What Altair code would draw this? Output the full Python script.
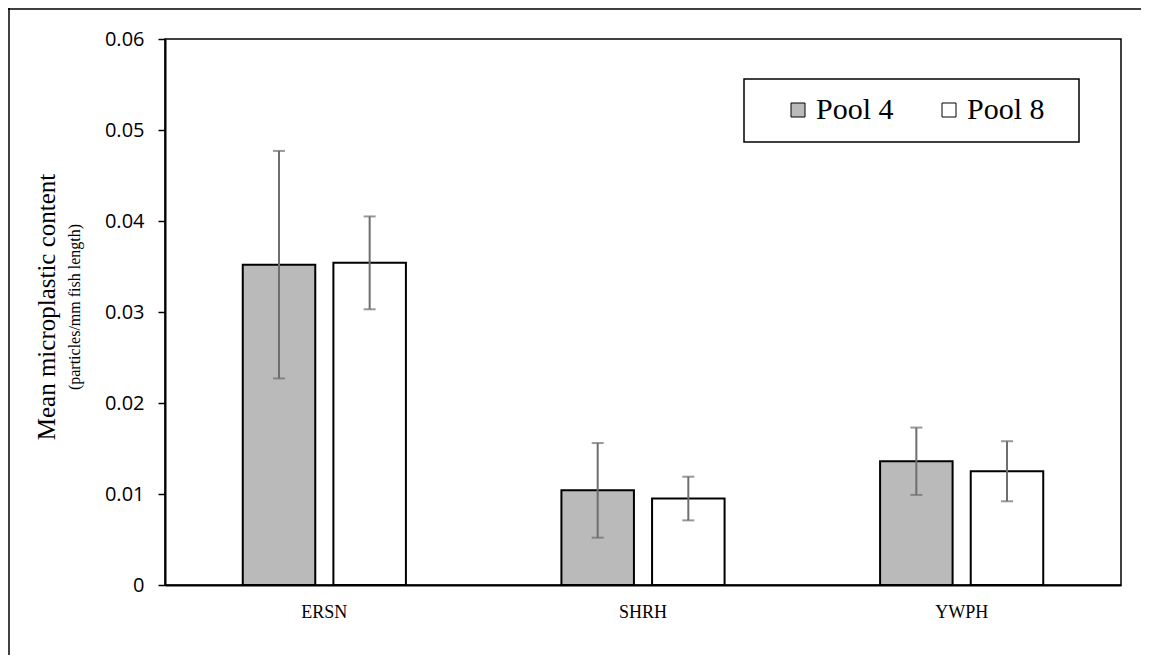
import altair as alt
import pandas as pd

categories = ["ERSN", "SHRH", "YWPH"]
series = ["Pool 4", "Pool 8"]
pool4_mean = [0.0352, 0.0104, 0.0136]
pool8_mean = [0.0354, 0.0095, 0.0125]
pool4_err = [0.0125, 0.0052, 0.0037]
pool8_err = [0.0051, 0.0024, 0.0033]
y_ticks = [0, 0.01, 0.02, 0.03, 0.04, 0.05, 0.06]
colors = ["#bababa", "#ffffff"]

rows = []
for i, c in enumerate(categories):
    for s, m, e in ((series[0], pool4_mean, pool4_err), (series[1], pool8_mean, pool8_err)):
        rows.append({"site": c, "pool": s, "mean": m[i], "low": m[i] - e[i], "high": m[i] + e[i]})
df = pd.DataFrame(rows)

W, H = 956, 546
ERR = "#6e6e6e"

x = alt.X("site:N", sort=categories,
          scale=alt.Scale(paddingInner=0.488, paddingOuter=0.244),
          axis=alt.Axis(title=None, labelAngle=0, ticks=False, labelFont="Liberation Serif",
                        labelFontSize=18, labelColor="black", labelPadding=18,
                        domainColor="black", domainWidth=2))
xo = alt.XOffset("pool:N", sort=series, scale=alt.Scale(paddingInner=0.2, paddingOuter=0))
yscale = alt.Scale(domain=[0, 0.06], nice=False, zero=True)
y = alt.Y("mean:Q", scale=yscale,
          axis=alt.Axis(values=y_ticks, title=None, grid=False,
                        labelExpr="datum.value == 0 ? '0' : format(datum.value, '.2f')",
                        labelFont="Open Sans", labelFontSize=20, labelColor="black",
                        tickSize=7, tickColor="black", tickWidth=1.5,
                        domainColor="black", domainWidth=2, labelPadding=14))

one = pd.DataFrame({"k": [0]})

border_top = alt.Chart(one).mark_rule(color="black", strokeWidth=1.5).encode(
    x=alt.value(-157), x2=alt.value(990), y=alt.value(-30))
border_left = alt.Chart(one).mark_rule(color="black", strokeWidth=1.5).encode(
    x=alt.value(-156), y=alt.value(-31), y2=alt.value(700))

legend_box = alt.Chart(one).mark_rect(fill="transparent", stroke="black", strokeWidth=1.5).encode(
    x=alt.value(579), x2=alt.value(914), y=alt.value(40), y2=alt.value(103))

bars = alt.Chart(df).mark_bar(stroke="black", strokeWidth=2).encode(
    x=x, xOffset=xo, y=y,
    fill=alt.Fill("pool:N", sort=series, scale=alt.Scale(domain=series, range=colors),
                  legend=alt.Legend(title=None, orient="none", legendX=618, legendY=56,
                                    direction="horizontal", symbolType="square", symbolSize=196,
                                    symbolStrokeColor="black", symbolStrokeWidth=1,
                                    labelFont="Liberation Serif", labelFontSize=30,
                                    labelColor="black", columnPadding=40, labelOffset=3,
                                    padding=0)))

rules = alt.Chart(df).mark_rule(color=ERR, strokeWidth=2).encode(
    x=x, xOffset=xo, y=alt.Y("low:Q", scale=yscale), y2="high:Q")
cap_lo = alt.Chart(df).mark_tick(color=ERR, thickness=2, size=12).encode(
    x=x, xOffset=xo, y=alt.Y("low:Q", scale=yscale))
cap_hi = alt.Chart(df).mark_tick(color=ERR, thickness=2, size=12).encode(
    x=x, xOffset=xo, y=alt.Y("high:Q", scale=yscale))

title_main = alt.Chart(one).mark_text(text="Mean microplastic content", font="Liberation Serif",
                                      fontSize=25, angle=270, align="center", baseline="middle",
                                      color="black").encode(x=alt.value(-118), y=alt.value(268))
title_sub = alt.Chart(one).mark_text(text="(particles/mm fish length)", font="Liberation Serif",
                                     fontSize=16, angle=270, align="center", baseline="middle",
                                     color="black").encode(x=alt.value(-90), y=alt.value(268))

chart = alt.layer(border_top, border_left, legend_box, bars, rules, cap_lo, cap_hi,
                  title_main, title_sub).properties(
    width=W, height=H,
    autosize=alt.AutoSizeParams(type="none"),
    padding={"left": 157, "top": 31, "right": 20, "bottom": 70},
).configure_view(stroke="black", strokeWidth=1.5)

chart.save("out.html", embed_options={"renderer": "svg", "actions": False})
